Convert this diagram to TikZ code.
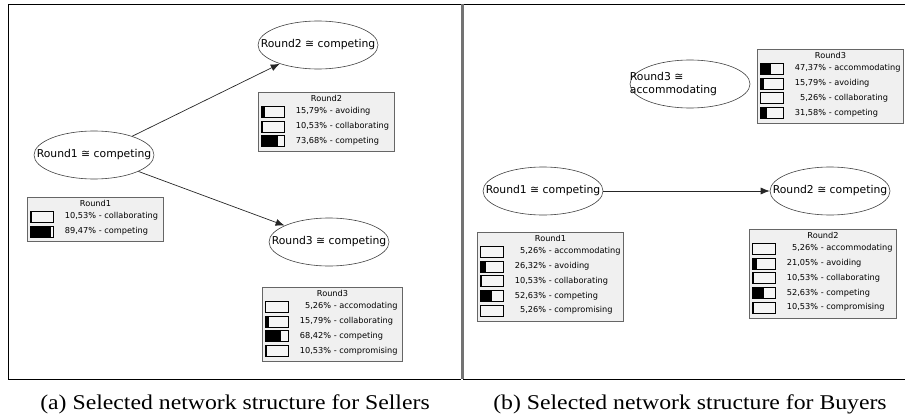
\documentclass[tikz,border=0pt]{standalone}
\usepackage{fontspec}
\setmainfont{Liberation Serif}
\newfontfamily\guifont{DejaVu Sans}
\usetikzlibrary{shapes.geometric,arrows.meta,calc}

\begin{document}
\begin{tikzpicture}[x=1pt, y=-1pt, >={Latex[length=9pt,width=7pt]},
		state/.style={draw=black!75, line width=0.6pt, ellipse, minimum width=120, minimum height=48, inner xsep=-16pt, inner ysep=0pt, font=\guifont\fontsize{10.8}{13}\selectfont},
		statetext/.style={inner sep=0pt, align=left, font=\guifont\fontsize{10.8}{13}\selectfont},
		probbox/.style={draw=black!60, line width=1pt, fill=black!6, anchor=north west, inner sep=0pt},
		boxtitle/.style={inner sep=0pt, font=\guifont\fontsize{8.2}{10}\selectfont},
		rowtext/.style={inner sep=0pt, anchor=west, font=\guifont\fontsize{8.2}{10}\selectfont},
		barframe/.style={draw=black, line width=0.6pt},
		link/.style={draw=black!85, line width=0.7pt},
		caption/.style={inner sep=0pt, font=\fontsize{21}{24}\selectfont}]
		\useasboundingbox (0,0) rectangle (905,420);

		% Panel frames
		\draw[line width=0.8pt] (461,4) -- (8,4) -- (8,379) -- (461,379);
		\draw[line width=0.8pt] (905,4) -- (463,4) -- (463,379) -- (905,379);
		\draw[black!55, line width=2.5pt] (462.5,4) -- (462.5,379);

		% Macro for one row of a probability box.
		% Usage: \staterow{box}{row}{share}{percent}{state}
		\newcommand{\staterow}[5]{
			\fill[white!96!black] ($(#1.north west)+(3,#2*14.7-0.5)$) rectangle ++(23,11);
			\fill[black] ($(#1.north west)+(3,#2*14.7-0.5)$) rectangle ++(23*#3,11);
			\draw[barframe] ($(#1.north west)+(3,#2*14.7-0.5)$) rectangle ++(23,11);
			\node[rowtext] (#1-r#2) at ($(#1.north west)+(36,#2*14.7+5)$) {\makebox[33pt][r]{#4\%} - #5};
		}

		% (a) Sellers
		\node[state] (s1r1) at (94,155) {Round1 ≅ competing};
		\node[state] (s1r2) at (318,45) {Round2 ≅ competing};
		\node[state] (s1r3) at (329,242) {Round3 ≅ competing};
		\draw[link, ->] (s1r1) -- (s1r2);
		\draw[link, ->] (s1r1) -- (s1r3);

		\node[probbox, minimum width=136, minimum height=44.4] (s1b1) at (27,197) {};
		\node[boxtitle] (s1b1t) at ($(s1b1.north)+(0,6.5)$) {Round1};
		\staterow{s1b1}{1}{0.1053}{10,53}{collaborating}
		\staterow{s1b1}{2}{0.8947}{89,47}{competing}

		\node[probbox, minimum width=136, minimum height=59.1] (s1b2) at (258,92) {};
		\node[boxtitle] (s1b2t) at ($(s1b2.north)+(0,6.5)$) {Round2};
		\staterow{s1b2}{1}{0.1579}{15,79}{avoiding}
		\staterow{s1b2}{2}{0.1053}{10,53}{collaborating}
		\staterow{s1b2}{3}{0.7368}{73,68}{competing}

		\node[probbox, minimum width=140, minimum height=73.8] (s1b3) at (262,287) {};
		\node[boxtitle] (s1b3t) at ($(s1b3.north)+(0,6.5)$) {Round3};
		\staterow{s1b3}{1}{0.0526}{5,26}{accomodating}
		\staterow{s1b3}{2}{0.1579}{15,79}{collaborating}
		\staterow{s1b3}{3}{0.6842}{68,42}{competing}
		\staterow{s1b3}{4}{0.1053}{10,53}{compromising}

		% (b) Buyers
		\node[state] (b1r1) at (543,191) {Round1 ≅ competing};
		\node[state] (b1r2) at (830,191) {Round2 ≅ competing};
		\node[state] (b1r3) at (690,84) {};
		\node[statetext, anchor=west] (b1r3t) at (b1r3.west) {Round3 ≅\\accommodating};
		\draw[link, ->] (b1r1) -- (b1r2);

		\node[probbox, minimum width=146, minimum height=88.5] (b1b1) at (477,232) {};
		\node[boxtitle] (b1b1t) at ($(b1b1.north)+(0,6.5)$) {Round1};
		\staterow{b1b1}{1}{0.0526}{5,26}{accommodating}
		\staterow{b1b1}{2}{0.2632}{26,32}{avoiding}
		\staterow{b1b1}{3}{0.1053}{10,53}{collaborating}
		\staterow{b1b1}{4}{0.5263}{52,63}{competing}
		\staterow{b1b1}{5}{0.0526}{5,26}{compromising}

		\node[probbox, minimum width=147, minimum height=88.5] (b1b2) at (749,229) {};
		\node[boxtitle] (b1b2t) at ($(b1b2.north)+(0,6.5)$) {Round2};
		\staterow{b1b2}{1}{0.0526}{5,26}{accommodating}
		\staterow{b1b2}{2}{0.2105}{21,05}{avoiding}
		\staterow{b1b2}{3}{0.1053}{10,53}{collaborating}
		\staterow{b1b2}{4}{0.5263}{52,63}{competing}
		\staterow{b1b2}{5}{0.1053}{10,53}{compromising}

		\node[probbox, minimum width=146, minimum height=73.8] (b1b3) at (757,49) {};
		\node[boxtitle] (b1b3t) at ($(b1b3.north)+(0,6.5)$) {Round3};
		\staterow{b1b3}{1}{0.4737}{47,37}{accommodating}
		\staterow{b1b3}{2}{0.1579}{15,79}{avoiding}
		\staterow{b1b3}{3}{0.0526}{5,26}{collaborating}
		\staterow{b1b3}{4}{0.3158}{31,58}{competing}

		% Captions
		\node[caption] (capa) at (235,404) {\scalebox{1.13}[1]{(a) Selected network structure for Sellers}};
		\node[caption] (capb) at (690,404) {\scalebox{1.13}[1]{(b) Selected network structure for Buyers}};
	\end{tikzpicture}
\end{document}
